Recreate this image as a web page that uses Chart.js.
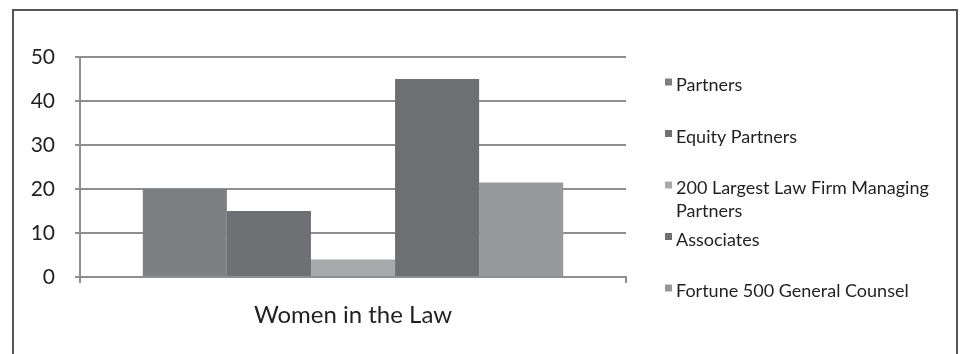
<!DOCTYPE html>
<html>
<head>
<meta charset="utf-8">
<script src="https://cdn.jsdelivr.net/npm/chart.js@4/dist/chart.umd.min.js"></script>
<style>
  html, body { margin: 0; padding: 0; background: #fff; }
  #wrap { position: relative; width: 961px; height: 354px; }
  canvas { display: block; }
</style>
</head>
<body>
<div id="wrap"><canvas id="c" width="961" height="354"></canvas></div>
<script>
// ---- data ----
const categories = ['Women in the Law'];
const seriesNames = ['Partners', 'Equity Partners', '200 Largest Law Firm Managing Partners', 'Associates', 'Fortune 500 General Counsel'];
const partners = [20];
const equityPartners = [15];
const largestFirmManagingPartners = [4];
const associates = [45];
const fortune500GeneralCounsel = [21.5];
const yTicks = [0, 10, 20, 30, 40, 50];

const seriesValues = [partners, equityPartners, largestFirmManagingPartners, associates, fortune500GeneralCounsel];
const seriesColors = ['#7e7f82', '#6f7073', '#a8a9ab', '#6e6f72', '#98999c'];

const FONT = 'Lato, "Open Sans", sans-serif';
const TEXT = '#231f20';
const GRID = '#8d8e90';

const frameAndLegend = {
  id: 'frameAndLegend',
  beforeDraw(chart) {
    const ctx = chart.ctx;
    ctx.save();
    ctx.strokeStyle = '#555555';
    ctx.lineWidth = 2;
    ctx.beginPath();
    ctx.moveTo(13, 360);
    ctx.lineTo(13, 10);
    ctx.lineTo(957, 10);
    ctx.lineTo(957, 360);
    ctx.stroke();
    ctx.restore();
  },
  afterDraw(chart) {
    const ctx = chart.ctx;
    ctx.save();
    ctx.font = '18px ' + FONT;
    ctx.textBaseline = 'alphabetic';
    ctx.textAlign = 'left';
    const x0 = 665, tx = 676, maxW = 265;
    chart.data.datasets.forEach((ds, i) => {
      const base = 91 + i * 51.5;
      ctx.fillStyle = ds.backgroundColor;
      ctx.fillRect(x0, base - 12.5, 7, 7);
      // wrap text
      const words = ds.label.split(' ');
      const lines = [];
      let cur = '';
      words.forEach(w => {
        const t = cur ? cur + ' ' + w : w;
        if (ctx.measureText(t).width > maxW && cur) { lines.push(cur); cur = w; }
        else cur = t;
      });
      lines.push(cur);
      ctx.fillStyle = TEXT;
      lines.forEach((ln, j) => ctx.fillText(ln, tx, base + j * 23));
    });
    ctx.restore();
  }
};

new Chart(document.getElementById('c'), {
  type: 'bar',
  data: {
    labels: categories,
    datasets: seriesNames.map((name, i) => ({
      label: name,
      data: seriesValues[i],
      backgroundColor: seriesColors[i],
      borderWidth: 0,
      categoryPercentage: 0.77,
      barPercentage: 1.0
    }))
  },
  options: {
    responsive: false,
    animation: false,
    events: [],
    layout: { padding: { left: 0, top: 57, right: 335, bottom: 0 } },
    plugins: { legend: { display: false }, tooltip: { enabled: false }, title: { display: false } },
    scales: {
      x: {
        offset: true,
        grid: { offset: true, drawOnChartArea: false, drawTicks: true, tickLength: 6, color: GRID, lineWidth: 2 },
        border: { display: true, color: GRID, width: 2 },
        ticks: { color: TEXT, font: { family: FONT, size: 24 }, padding: 18, maxRotation: 0 },
        afterFit(scale) { scale.height = 77; }
      },
      y: {
        min: 0, max: 50,
        afterBuildTicks(scale) { scale.ticks = yTicks.map(v => ({ value: v })); },
        grid: { drawTicks: true, tickLength: 5, color: GRID, lineWidth: 2 },
        border: { display: true, color: GRID, width: 2 },
        ticks: { color: TEXT, font: { family: FONT, size: 21 }, padding: 20 },
        afterFit(scale) { scale.width = 80; }
      }
    }
  },
  plugins: [frameAndLegend]
});
</script>
</body>
</html>
